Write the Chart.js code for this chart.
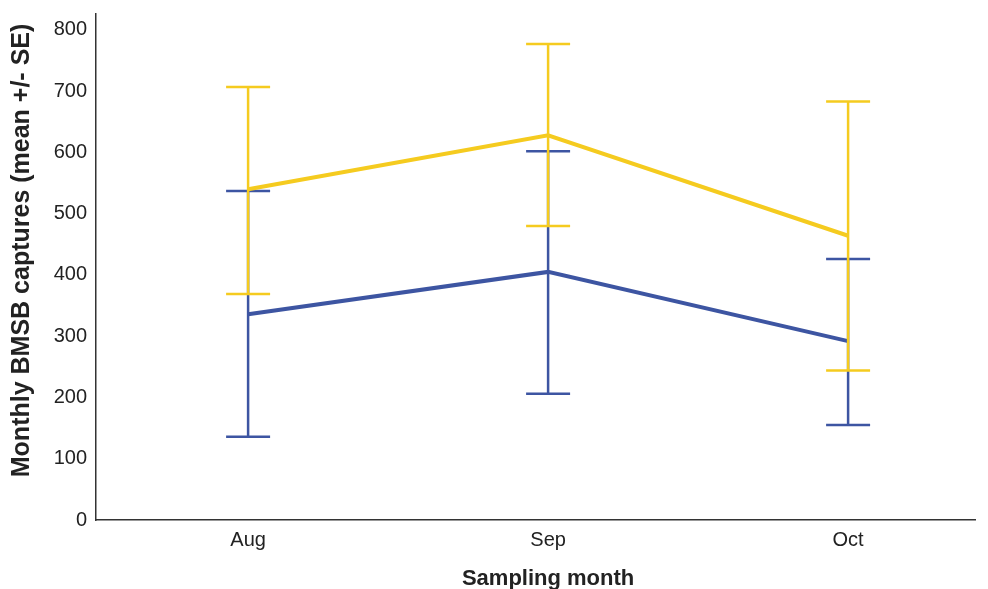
<!DOCTYPE html>
<html>
<head>
<meta charset="utf-8">
<script src="https://cdn.jsdelivr.net/npm/chart.js@4.4.1/dist/chart.umd.min.js"></script>
<style>
  html, body { margin: 0; padding: 0; background: #fff; }
  #wrap { width: 988px; height: 589px; }
</style>
</head>
<body>
<div id="wrap"><canvas id="myChart" width="988" height="589"></canvas></div>
<script>
// values
const months = ['Aug', 'Sep', 'Oct'];
const yellowMean = [540, 628, 464];
const yellowLow  = [369, 480, 244];
const yellowHigh = [707, 777, 683];
const blueMean = [336, 405, 292];
const blueLow  = [136, 206, 155];
const blueHigh = [537, 602, 426];
const yTicks = [0, 100, 200, 300, 400, 500, 600, 700, 800];

const YELLOW = '#F5CB1F';
const BLUE = '#3D55A2';

const canvas = document.getElementById('myChart');
const ctx = canvas.getContext('2d');

function pts(arr){
  return arr.map((v, i) => ({x: i, y: v}));
}

// draws the +/- SE whiskers for each dataset right after the line itself
const errorBars = {
  id: 'errorBars',
  afterDatasetDraw(chart, args){
    const ds = chart.data.datasets[args.index];
    const xs = chart.scales.x, ys = chart.scales.y;
    const c = chart.ctx;
    c.save();
    c.strokeStyle = ds.borderColor;
    c.lineWidth = 2.5;
    ds.low.forEach((lo, i) => {
      const x = xs.getPixelForValue(i);
      const y1 = ys.getPixelForValue(lo);
      const y2 = ys.getPixelForValue(ds.high[i]);
      c.beginPath();
      c.moveTo(x, y1); c.lineTo(x, y2);
      c.moveTo(x - 22, y1); c.lineTo(x + 22, y1);
      c.moveTo(x - 22, y2); c.lineTo(x + 22, y2);
      c.stroke();
    });
    c.restore();
  }
};

// axis titles: in the original they are not centred on the plot area
const axisTitles = {
  id: 'axisTitles',
  afterDraw(chart){
    const c = chart.ctx;
    const xs = chart.scales.x, ys = chart.scales.y;
    c.save();
    c.fillStyle = '#222';
    c.textAlign = 'center';
    c.textBaseline = 'middle';
    c.font = 'bold 22px "Liberation Sans"';
    c.fillText('Sampling month', xs.getPixelForValue(1), 579);
    c.translate(22, ys.getPixelForValue(440));
    c.rotate(-Math.PI / 2);
    c.font = 'bold 25px "Liberation Sans"';
    c.fillText('Monthly BMSB captures (mean +/- SE)', 0, 0);
    c.restore();
  }
};

const data = {
  datasets: [{
    label: 'yellow',
    data: pts(yellowMean),
    low: yellowLow,
    high: yellowHigh,
    borderColor: YELLOW,
    borderWidth: 4,
    pointRadius: 0,
    order: 1
  }, {
    label: 'blue',
    data: pts(blueMean),
    low: blueLow,
    high: blueHigh,
    borderColor: BLUE,
    borderWidth: 4,
    pointRadius: 0,
    order: 2
  }]
};

const config = {
  type: 'line',
  data: data,
  options: {
    responsive: false,
    animation: false,
    layout: { padding: { top: 14, right: 13, left: 0, bottom: 0 } },
    plugins: { legend: { display: false }, tooltip: { enabled: false } },
    scales: {
      x: {
        type: 'linear',
        min: -0.507,
        max: 2.423,
        afterBuildTicks: s => { s.ticks = [0, 1, 2].map(v => ({value: v})); },
        afterFit: s => { s.height = 69; s.paddingLeft = 0; s.paddingRight = 0; },
        grid: { display: false, drawTicks: false },
        border: { color: '#333', width: 1.5 },
        ticks: {
          color: '#222',
          font: { family: 'Liberation Sans', size: 20 },
          padding: 8,
          maxRotation: 0,
          callback: v => months[v]
        }
      },
      y: {
        min: 0,
        max: 826,
        afterBuildTicks: s => { s.ticks = yTicks.map(v => ({value: v})); },
        afterFit: s => { s.width = 96; s.paddingTop = 0; s.paddingBottom = 0; },
        grid: { display: false, drawTicks: false },
        border: { color: '#333', width: 1.5 },
        ticks: {
          color: '#222',
          font: { family: 'Liberation Sans', size: 20 },
          padding: 9
        }
      }
    }
  },
  plugins: [errorBars, axisTitles]
};

const myChart = new Chart(ctx, config);
</script>
</body>
</html>
